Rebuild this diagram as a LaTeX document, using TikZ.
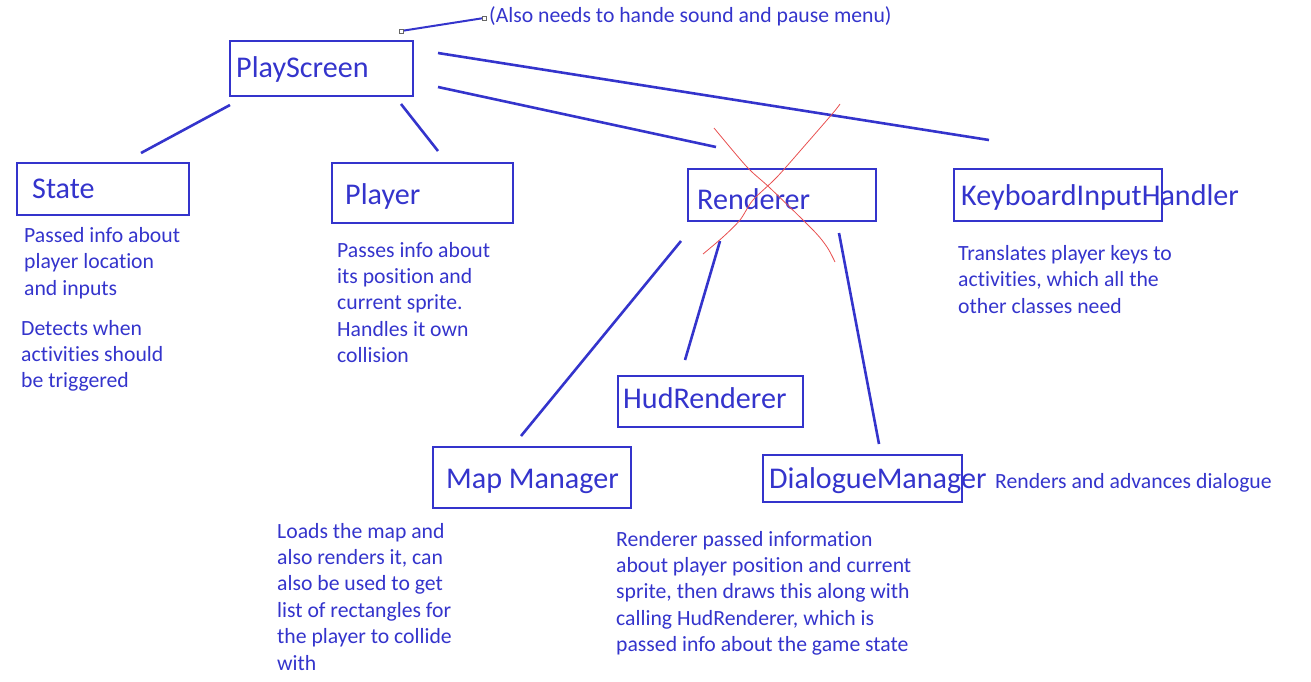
\documentclass[tikz,border=0pt]{standalone}
\usepackage{fontspec}
\setmainfont[Ligatures=NoCommon]{Carlito}
\definecolor{inkblue}{RGB}{52,52,204}
\definecolor{inkred}{RGB}{232,80,80}
\begin{document}
\begin{tikzpicture}[x=1pt,y=-1pt,
  box/.style={draw=inkblue,line width=2.6pt,inner sep=0pt,minimum width=#1},
  lbl/.style={inkblue,anchor=base west,inner sep=0pt,font=\fontsize{30.1}{34}\selectfont},
  desc/.style={inkblue,anchor=base west,inner sep=0pt,align=left,font=\fontsize{21.7}{26.4}\selectfont},
  link/.style={draw=inkblue,line width=2.6pt},
  handle/.style={draw=gray!80!black,fill=white,line width=0.6pt,inner sep=0pt,minimum size=4pt},
  cross/.style={draw=inkred,line width=0.8pt}]
\useasboundingbox (0,0) rectangle (1311,681);
% boxes
\node[box=183pt,minimum height=55pt] (playscreen) at (321.5,68.5) {};
\node[box=172pt,minimum height=52pt] (state) at (103,189) {};
\node[box=181pt,minimum height=60pt] (player) at (422.5,193) {};
\node[box=188pt,minimum height=52pt] (renderer) at (782,195) {};
\node[box=208pt,minimum height=52pt] (keyboard) at (1058,195) {};
\node[box=185pt,minimum height=51pt] (hud) at (710.5,401.5) {};
\node[box=198pt,minimum height=61pt] (map) at (532,477.5) {};
\node[box=199pt,minimum height=47pt] (dialogue) at (862.5,478.5) {};
% labels
\node[lbl] (tplay) at (236,77) {PlayScreen};
\node[lbl] (tstate) at (32,198) {State};
\node[lbl] (tplayer) at (345,204) {Player};
\node[lbl] (trend) at (697,209) {Renderer};
\node[lbl] (tkey) at (961,205) {KeyboardInputHandler};
\node[lbl] (thud) at (623,408) {HudRenderer};
\node[lbl] (tmap) at (446,488) {Map Manager};
\node[lbl] (tdial) at (769,488) {DialogueManager};
% descriptions (base anchor = baseline of the last line)
\node[desc] (dnote) at (489,22) {(Also needs to hande sound and pause menu)};
\node[desc] (dstate1) at (24,295.3) {Passed info about\\player location\\and inputs};
\node[desc] (dstate2) at (21,387.8) {Detects when\\activities should\\be triggered};
\node[desc] (dplayer) at (337,362.6) {Passes info about\\its position and\\current sprite.\\Handles it own\\collision};
\node[desc] (dkey) at (958,313.3) {Translates player keys to\\activities, which all the\\other classes need};
\node[desc] (dmap) at (277,670) {Loads the map and\\also renders it, can\\also be used to get\\list of rectangles for\\the player to collide\\with};
\node[desc] (drend) at (616,651.6) {Renderer passed information\\about player position and current\\sprite, then draws this along with\\calling HudRenderer, which is\\passed info about the game state};
\node[desc] (ddial) at (995,488) {Renders and advances dialogue};
% connector end points
\coordinate (p1) at (230,105); \coordinate (s1) at (141,153);
\coordinate (p2) at (401,104); \coordinate (pl1) at (438,151);
\coordinate (p3) at (438,87);  \coordinate (r1) at (716,147);
\coordinate (p4) at (438,53);  \coordinate (k1) at (989,140);
\coordinate (r2) at (681,241); \coordinate (m1) at (521,436);
\coordinate (r3) at (720,241); \coordinate (h1) at (685,360);
\coordinate (r4) at (839,233); \coordinate (d1) at (879,444);
\coordinate (n1) at (401,31);  \coordinate (n2) at (484,18);
\draw[link] (p1) -- (s1);
\draw[link] (p2) -- (pl1);
\draw[link] (p3) -- (r1);
\draw[link] (p4) -- (k1);
\draw[link] (r2) -- (m1);
\draw[link] (r3) -- (h1);
\draw[link] (r4) -- (d1);
\draw[link,line width=2pt] (n1) -- (n2);
\node[handle] (hn1) at (n1) {};
\node[handle] (hn2) at (n2) {};
% red cross
\draw[cross] plot[smooth] coordinates {(714,128) (747,167) (770,188) (813,230) (827,247) (835,262)};
\draw[cross] plot[smooth] coordinates {(840,104) (833,113) (807,143) (777,177) (753,200) (740,220) (723,237) (703,254)};
\end{tikzpicture}
\end{document}
